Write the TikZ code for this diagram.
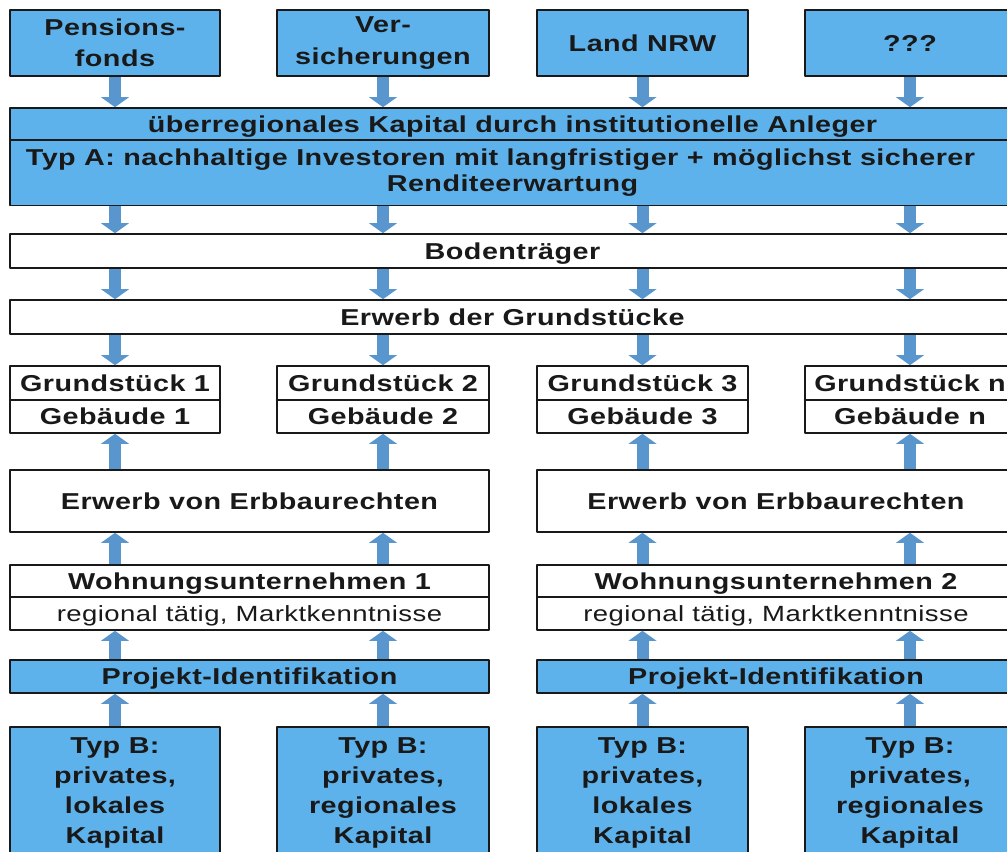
\documentclass[tikz,border=0pt]{standalone}
\usepackage{fontspec}
\setmainfont{Liberation Sans}[FakeStretch=1.25,LetterSpace=2]
\usetikzlibrary{arrows.meta,positioning}

\definecolor{boxblue}{RGB}{94,178,236}
\definecolor{arrowblue}{RGB}{90,150,206}
\definecolor{strokecol}{RGB}{25,25,25}

\begin{document}
\begin{tikzpicture}[x=1bp,y=-1bp,line join=bevel,
  >={Triangle[width=28bp 0,length=10bp 0,line width=0pt]},
  box/.style={draw=strokecol,line width=1.6bp,inner sep=0pt,align=center,text=strokecol,
    font=\fontsize{23bp}{31.5bp}\selectfont\bfseries},
  bluebox/.style={box,fill=boxblue},
  whitebox/.style={box,fill=white},
  oneline/.style={text height=16.5bp,text depth=0pt},
  typb/.style={bluebox,minimum height=132.5bp,font=\fontsize{23bp}{30bp}\selectfont\bfseries},
  flow/.style={->,draw=arrowblue,fill=arrowblue,line width=12bp},
]

\useasboundingbox (0,0) rectangle (1007,852);
\clip (0,0) rectangle (1007,852);

% Node: pf
\node[bluebox,minimum width=210bp,minimum height=66bp] (pf) at (115,43) {Pensions-\\fonds};
% Node: vs
\node[bluebox,minimum width=212bp,minimum height=66bp] (vs) at (383,43) {Ver-\\sicherungen};
% Node: nrw
\node[bluebox,oneline,minimum width=211bp,minimum height=66bp] (nrw) at (642.5,43) {Land NRW};
% Node: qqq
\node[bluebox,oneline,minimum width=210bp,minimum height=66bp] (qqq) at (910,43) {???};

% Node: kap
\node[bluebox,oneline,minimum width=1005bp,minimum height=32bp] (kap) at (512.5,124)
  {überregionales Kapital durch institutionelle Anleger};
% Node: typa
\node[bluebox,minimum width=1005bp,minimum height=65bp,
  font=\fontsize{23bp}{26bp}\selectfont\bfseries] (typa) at (512.5,173)
  {Typ A: nachhaltige Investoren mit langfristiger + möglichst sicherer\hspace*{24bp}\\Renditeerwartung};

% Node: bt
\node[whitebox,oneline,minimum width=1005bp,minimum height=34bp] (bt) at (512.5,251) {Bodenträger};
% Node: eg
\node[whitebox,oneline,minimum width=1005bp,minimum height=34bp] (eg) at (512.5,317) {Erwerb der Grundstücke};

% Node: g1
\node[whitebox,oneline,minimum width=210bp,minimum height=34bp] (g1) at (115,383) {Grundstück 1};
\node[whitebox,oneline,minimum width=210bp,minimum height=33bp] (g1b) at (115,416.5) {Gebäude 1};
% Node: g2
\node[whitebox,oneline,minimum width=212bp,minimum height=34bp] (g2) at (383,383) {Grundstück 2};
\node[whitebox,oneline,minimum width=212bp,minimum height=33bp] (g2b) at (383,416.5) {Gebäude 2};
% Node: g3
\node[whitebox,oneline,minimum width=211bp,minimum height=34bp] (g3) at (642.5,383) {Grundstück 3};
\node[whitebox,oneline,minimum width=211bp,minimum height=33bp] (g3b) at (642.5,416.5) {Gebäude 3};
% Node: gn
\node[whitebox,oneline,minimum width=210bp,minimum height=34bp] (gn) at (910,383) {Grundstück n};
\node[whitebox,oneline,minimum width=210bp,minimum height=33bp] (gnb) at (910,416.5) {Gebäude n};

% Node: eb1
\node[whitebox,oneline,minimum width=479bp,minimum height=62bp] (eb1) at (249.5,501) {Erwerb von Erbbaurechten};
% Node: eb2
\node[whitebox,oneline,minimum width=478bp,minimum height=62bp] (eb2) at (776,501) {Erwerb von Erbbaurechten};

% Node: wu1
\node[whitebox,oneline,minimum width=479bp,minimum height=32bp] (wu1) at (249.5,581) {Wohnungsunternehmen 1};
\node[whitebox,oneline,minimum width=479bp,minimum height=33bp,font=\fontsize{22bp}{26bp}\selectfont,
  text height=15.5bp] (wu1b) at (249.5,613.5) {regional tätig, Marktkenntnisse};
% Node: wu2
\node[whitebox,oneline,minimum width=478bp,minimum height=32bp] (wu2) at (776,581) {Wohnungsunternehmen 2};
\node[whitebox,oneline,minimum width=478bp,minimum height=33bp,font=\fontsize{22bp}{26bp}\selectfont,
  text height=15.5bp] (wu2b) at (776,613.5) {regional tätig, Marktkenntnisse};

% Node: pi1
\node[bluebox,oneline,minimum width=479bp,minimum height=33bp] (pi1) at (249.5,676.5) {Projekt-Identifikation};
% Node: pi2
\node[bluebox,oneline,minimum width=478bp,minimum height=33bp] (pi2) at (776,676.5) {Projekt-Identifikation};

% Node: tb1 .. tb4
\node[typb,minimum width=210bp] (tb1) at (115,793.25) {Typ B:\\privates,\\lokales\\Kapital};
\node[typb,minimum width=212bp] (tb2) at (383,793.25) {Typ B:\\privates,\\regionales\\Kapital};
\node[typb,minimum width=211bp] (tb3) at (642.5,793.25) {Typ B:\\privates,\\lokales\\Kapital};
\node[typb,minimum width=210bp] (tb4) at (910,793.25) {Typ B:\\privates,\\regionales\\Kapital};

% Edge: investors -> kap
\draw[flow] (pf.south) -- (pf.south |- kap.north);
\draw[flow] (vs.south) -- (vs.south |- kap.north);
\draw[flow] (nrw.south) -- (nrw.south |- kap.north);
\draw[flow] (qqq.south) -- (qqq.south |- kap.north);

% Edge: typa -> bt
\draw[flow] (typa.south -| pf) -- (bt.north -| pf);
\draw[flow] (typa.south -| vs) -- (bt.north -| vs);
\draw[flow] (typa.south -| nrw) -- (bt.north -| nrw);
\draw[flow] (typa.south -| qqq) -- (bt.north -| qqq);

% Edge: bt -> eg
\draw[flow] (bt.south -| pf) -- (eg.north -| pf);
\draw[flow] (bt.south -| vs) -- (eg.north -| vs);
\draw[flow] (bt.south -| nrw) -- (eg.north -| nrw);
\draw[flow] (bt.south -| qqq) -- (eg.north -| qqq);

% Edge: eg -> g1 .. gn
\draw[flow] (eg.south -| g1) -- (g1.north);
\draw[flow] (eg.south -| g2) -- (g2.north);
\draw[flow] (eg.south -| g3) -- (g3.north);
\draw[flow] (eg.south -| gn) -- (gn.north);

% Edge: eb -> g
\draw[flow] (eb1.north -| g1b) -- (g1b.south);
\draw[flow] (eb1.north -| g2b) -- (g2b.south);
\draw[flow] (eb2.north -| g3b) -- (g3b.south);
\draw[flow] (eb2.north -| gnb) -- (gnb.south);

% Edge: wu -> eb
\draw[flow] (wu1.north -| g1b) -- (eb1.south -| g1b);
\draw[flow] (wu1.north -| g2b) -- (eb1.south -| g2b);
\draw[flow] (wu2.north -| g3b) -- (eb2.south -| g3b);
\draw[flow] (wu2.north -| gnb) -- (eb2.south -| gnb);

% Edge: pi -> wu
\draw[flow] (pi1.north -| g1b) -- (wu1b.south -| g1b);
\draw[flow] (pi1.north -| g2b) -- (wu1b.south -| g2b);
\draw[flow] (pi2.north -| g3b) -- (wu2b.south -| g3b);
\draw[flow] (pi2.north -| gnb) -- (wu2b.south -| gnb);

% Edge: tb -> pi
\draw[flow] (tb1.north) -- (tb1.north |- pi1.south);
\draw[flow] (tb2.north) -- (tb2.north |- pi1.south);
\draw[flow] (tb3.north) -- (tb3.north |- pi2.south);
\draw[flow] (tb4.north) -- (tb4.north |- pi2.south);

\end{tikzpicture}
\end{document}
